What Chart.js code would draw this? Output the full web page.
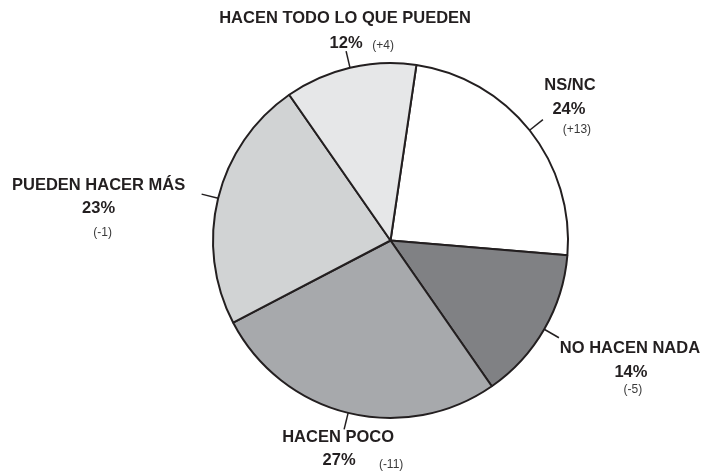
<!DOCTYPE html>
<html>
<head>
<meta charset="utf-8">
<script src="https://cdn.jsdelivr.net/npm/chart.js@4/dist/chart.umd.min.js"></script>
<style>
  html, body { margin: 0; padding: 0; background: #ffffff; }
  #wrap { width: 708px; height: 473px; position: relative; }
</style>
</head>
<body>
<div id="wrap"><canvas id="pie"></canvas></div>
<script>
// data, clockwise from the slice just right of the top
const categories = ["NS/NC", "NO HACEN NADA", "HACEN POCO", "PUEDEN HACER MÁS", "HACEN TODO LO QUE PUEDEN"];
const shares = [24, 14, 27, 23, 12];
const changes = ["(+13)", "(-5)", "(-11)", "(-1)", "(+4)"];

const sliceColors = ["#ffffff", "#808184", "#a7a9ac", "#d1d3d4", "#e6e7e8"];
const ink = "#231f20";

// label placement relative to the outer end of each leader line: [title, percent, change]
const labelOffsets = [
    [[27, -34], [26, -10], [34, 10]],
    [[71, 11], [72, 35], [74, 52]],
    [[-6, 8], [-5, 31], [47, 35]],
    [[-103, -9], [-103, 14], [-99, 39]],
    [[-1, -33], [0, -8], [37, -5]],
];
const leaderLength = 17;

const calloutPlugin = {
    id: "callouts",
    afterDatasetsDraw(chart) {
        const ctx = chart.ctx;
        const arcs = chart.getDatasetMeta(0).data;
        ctx.save();
        arcs.forEach((arc, i) => {
            const mid = (arc.startAngle + arc.endAngle) / 2;
            const r0 = arc.outerRadius;
            const r1 = r0 + leaderLength;
            const x0 = arc.x + Math.cos(mid) * r0;
            const y0 = arc.y + Math.sin(mid) * r0;
            const x1 = arc.x + Math.cos(mid) * r1;
            const y1 = arc.y + Math.sin(mid) * r1;
            ctx.strokeStyle = ink;
            ctx.lineWidth = 1.5;
            ctx.beginPath();
            ctx.moveTo(x0, y0);
            ctx.lineTo(x1, y1);
            ctx.stroke();

            const off = labelOffsets[i];
            ctx.fillStyle = ink;
            ctx.textAlign = "center";
            ctx.textBaseline = "middle";
            ctx.font = "bold 16.5px 'Liberation Sans', Arial, sans-serif";
            ctx.fillText(categories[i], x1 + off[0][0], y1 + off[0][1]);
            ctx.fillText(shares[i] + "%", x1 + off[1][0], y1 + off[1][1]);
            ctx.fillStyle = "#3a3a3a";
            ctx.font = "12px 'Liberation Sans', Arial, sans-serif";
            ctx.fillText(changes[i], x1 + off[2][0], y1 + off[2][1]);
        });
        ctx.restore();
    },
};

new Chart(document.getElementById("pie"), {
    type: "pie",
    data: {
        labels: categories,
        datasets: [
            {
                data: shares,
                backgroundColor: sliceColors,
                borderColor: ink,
                borderWidth: 2,
            },
        ],
    },
    options: {
        responsive: true,
        maintainAspectRatio: false,
        animation: false,
        rotation: 8.4,
        layout: { padding: { top: 62, bottom: 54, left: 212, right: 139 } },
        plugins: {
            legend: { display: false },
            tooltip: { enabled: false },
        },
    },
    plugins: [calloutPlugin],
});
</script>
</body>
</html>
